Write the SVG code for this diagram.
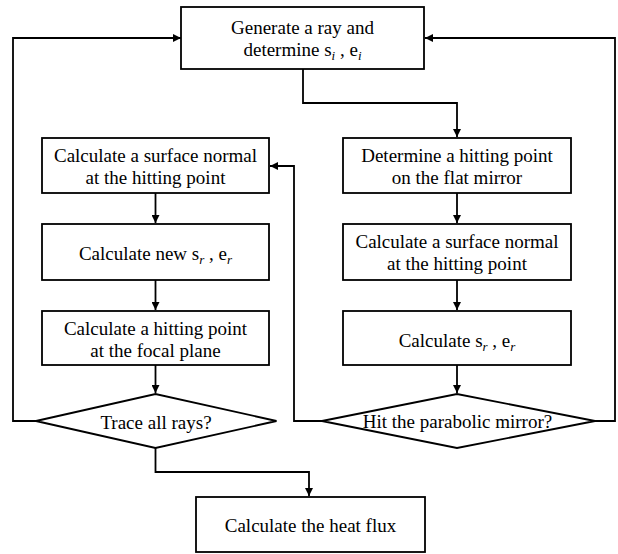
<svg xmlns="http://www.w3.org/2000/svg" width="618" height="554" viewBox="0 0 618 554">
<defs>
<marker id="ah" viewBox="0 0 10 10" refX="10" refY="5" markerWidth="8" markerHeight="8" markerUnits="userSpaceOnUse" orient="auto">
<path d="M0,0 L10,5 L0,10 Z" fill="#000"/>
</marker>
<style>
.box{fill:#fff;stroke:#000;stroke-width:1.8}
.ln{fill:none;stroke:#000;stroke-width:1.8}
text{font-family:"Liberation Serif","Times New Roman",serif;font-size:19px;fill:#000;text-anchor:middle}
.sub{font-style:italic;font-size:13px}
</style>
</defs>
<rect width="618" height="554" fill="#fff"/>
<g id="connectors">
<path class="ln" d="M303,69 V103 H457 V137" marker-end="url(#ah)"/>
<path class="ln" d="M155.5,193 V223" marker-end="url(#ah)"/>
<path class="ln" d="M155.5,280 V310" marker-end="url(#ah)"/>
<path class="ln" d="M155.5,365 V393" marker-end="url(#ah)"/>
<path class="ln" d="M457,193 V223" marker-end="url(#ah)"/>
<path class="ln" d="M457,280 V310" marker-end="url(#ah)"/>
<path class="ln" d="M457,365 V393" marker-end="url(#ah)"/>
<path class="ln" d="M36,421 H13 V38 H181" marker-end="url(#ah)"/>
<path class="ln" d="M595,421 H615 V38 H425" marker-end="url(#ah)"/>
<path class="ln" d="M322,421 H294 V166 H270" marker-end="url(#ah)"/>
<path class="ln" d="M155.5,448 V472 H309 V496" marker-end="url(#ah)"/>
</g>
<g id="generate">
<rect class="box" x="181" y="7" width="243" height="62"/>
<text x="302.5" y="33.5">Generate a ray and</text>
<text x="302.5" y="55.5">determine s<tspan class="sub" dy="4">i</tspan><tspan dy="-4"> , e</tspan><tspan class="sub" dy="4">i</tspan></text>
</g>
<g id="left-normal">
<rect class="box" x="42" y="138" width="227" height="55"/>
<text x="155.5" y="162">Calculate a surface normal</text>
<text x="155.5" y="184">at the hitting point</text>
</g>
<g id="left-new">
<rect class="box" x="42" y="224" width="227" height="56"/>
<text x="155.5" y="260">Calculate new s<tspan class="sub" dy="4">r</tspan><tspan dy="-4"> , e</tspan><tspan class="sub" dy="4">r</tspan></text>
</g>
<g id="left-focal">
<rect class="box" x="42" y="311" width="227" height="54"/>
<text x="155.5" y="335">Calculate a hitting point</text>
<text x="155.5" y="357">at the focal plane</text>
</g>
<g id="trace">
<polygon class="box" points="36,421 155.5,394 276.5,421 155.5,448"/>
<text x="156" y="428.5">Trace all rays?</text>
</g>
<g id="right-flat">
<rect class="box" x="343" y="138" width="228" height="55"/>
<text x="457" y="162">Determine a hitting point</text>
<text x="457" y="184">on the flat mirror</text>
</g>
<g id="right-normal">
<rect class="box" x="343" y="224" width="228" height="56"/>
<text x="457" y="248">Calculate a surface normal</text>
<text x="457" y="270">at the hitting point</text>
</g>
<g id="right-calc">
<rect class="box" x="343" y="311" width="228" height="54"/>
<text x="457" y="347">Calculate s<tspan class="sub" dy="4">r</tspan><tspan dy="-4"> , e</tspan><tspan class="sub" dy="4">r</tspan></text>
</g>
<g id="hit">
<polygon class="box" points="322,421 457,394 595,421 457,448"/>
<text x="457.5" y="428">Hit the parabolic mirror?</text>
</g>
<g id="heat">
<rect class="box" x="196" y="497" width="229" height="55"/>
<text x="310.5" y="531.5">Calculate the heat flux</text>
</g>
</svg>
